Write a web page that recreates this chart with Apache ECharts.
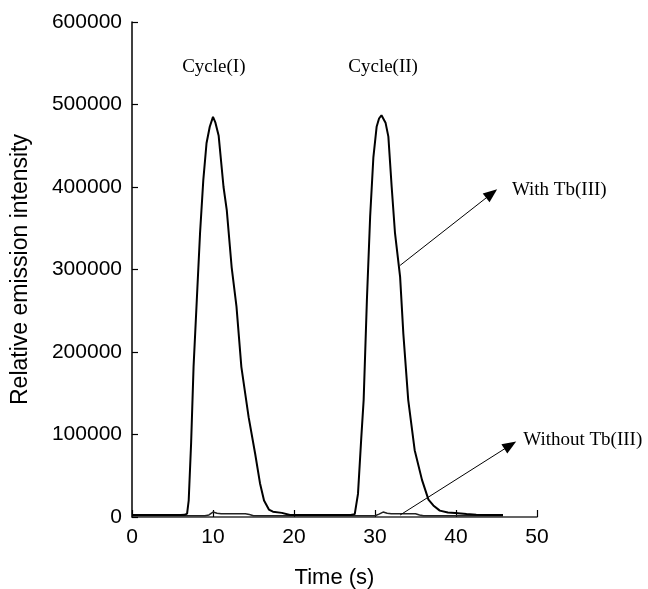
<!DOCTYPE html>
<html>
<head>
<meta charset="utf-8">
<script src="https://cdn.jsdelivr.net/npm/echarts@6/dist/echarts.min.js"></script>
<style>
  html, body { margin: 0; padding: 0; background: #fff; }
  #chart { width: 648px; height: 589px; }
</style>
</head>
<body>
<div id="chart"></div>
<script>
// time (s) and intensity
const withTime = [0, 1, 2, 3, 4, 5, 6, 6.5, 6.8, 7.0, 7.3, 7.6, 8.0, 8.4, 8.8, 9.2, 9.6, 10.0, 10.3, 10.7,
  11.3, 11.7, 12.3, 12.9, 13.5, 14.4, 15.2, 15.8, 16.3, 16.9, 17.4, 18.5, 19.5, 20.5, 22, 24, 26, 27, 27.5,
  27.9, 28.3, 28.6, 29.0, 29.4, 29.8, 30.2, 30.5, 30.8, 31.0, 31.3, 31.65, 32.06, 32.47, 33.1, 33.5, 34.1,
  34.9, 35.8, 36.6, 37.2, 38.0, 39.0, 39.9, 41.3, 42.5, 44, 45.8];
const withTb = [2500, 2500, 2500, 2500, 2500, 2500, 2500, 2600, 4000, 20000, 90000, 182000, 263000, 344000,
  408000, 453000, 473000, 485000, 478000, 462000, 400000, 372000, 303000, 255000, 182000, 121000, 77000,
  41000, 20000, 9000, 6400, 5000, 2500, 2500, 2500, 2500, 2500, 2500, 3500, 28000, 95000, 142000, 263000,
  364000, 436000, 473000, 483000, 487000, 485000, 478000, 461000, 400000, 344000, 291000, 222000, 142000,
  81000, 45000, 21000, 14000, 7700, 5500, 4800, 3600, 2800, 2500, 2500];

const withoutTime = [0, 5, 9, 9.5, 10, 10.5, 11, 14, 14.5, 15, 20, 25, 30, 30.5, 31, 31.5, 32, 35, 35.5, 36, 40, 45.8];
const withoutTb = [1500, 1500, 1500, 2500, 6000, 4500, 4000, 4000, 3000, 1500, 1500, 1500, 1500, 3500, 6000,
  4500, 4000, 4000, 2500, 1500, 1500, 1500];

// annotations: [time, intensity]
const cycleLabels = [
  { name: 'Cycle(I)', at: [10.1, 545000] },
  { name: 'Cycle(II)', at: [31.0, 545000] }
];
const arrows = [
  { from: [33.1, 305000], to: [44.4, 392000], text: 'With Tb(III)', textAt: [46.9, 396000] },
  { from: [33.1, 2400], to: [46.7, 87000], text: 'Without Tb(III)', textAt: [48.3, 93000] }
];

const zip = (xs, ys) => xs.map((x, i) => [x, ys[i]]);

const chart = echarts.init(document.getElementById('chart'));

const sans = 'Liberation Sans, Arial, sans-serif';
const serif = 'Liberation Serif, Times New Roman, serif';

chart.setOption({
  animation: false,
  grid: { left: 132, right: 111, top: 22, bottom: 72, outerBoundsMode: 'none', containLabel: false },
  xAxis: {
    type: 'value', min: 0, max: 50, interval: 10,
    name: 'Time (s)', nameLocation: 'middle', nameGap: 50,
    nameTextStyle: { fontFamily: sans, fontSize: 22, color: '#000' },
    axisLine: { lineStyle: { color: '#333', width: 1.5 } },
    axisTick: { inside: true, length: 7, lineStyle: { color: '#000', width: 1.2 } },
    axisLabel: { fontFamily: sans, fontSize: 21, color: '#000', margin: 10 },
    splitLine: { show: false }
  },
  yAxis: {
    type: 'value', min: 0, max: 600000, interval: 100000,
    name: 'Relative emission intensity', nameLocation: 'middle', nameGap: 100,
    nameTextStyle: { fontFamily: sans, fontSize: 23, color: '#000' },
    axisLine: { show: true, lineStyle: { color: '#000', width: 1.5 } },
    axisTick: { show: true, inside: true, length: 6, lineStyle: { color: '#000', width: 1.2 } },
    axisLabel: { fontFamily: sans, fontSize: 21, color: '#000', margin: 10, formatter: v => String(v) },
    splitLine: { show: false }
  },
  series: [
    {
      name: 'Without Tb(III)', type: 'line', data: zip(withoutTime, withoutTb),
      showSymbol: false, lineStyle: { color: '#222', width: 1.5 }, z: 2
    },
    {
      name: 'With Tb(III)', type: 'line', data: zip(withTime, withTb),
      showSymbol: false, lineStyle: { color: '#000', width: 2 }, z: 3,
      markLine: {
        silent: true, symbol: ['none', 'triangle'], symbolSize: [11, 14],
        lineStyle: { color: '#000', width: 1, type: 'solid' },
        label: { show: false },
        data: arrows.map(a => [{ coord: a.from }, { coord: a.to }])
      },
      markPoint: {
        silent: true, symbol: 'circle', symbolSize: 0,
        data: cycleLabels.map(c => ({
          coord: c.at,
          label: { show: true, formatter: c.name, fontFamily: serif, fontSize: 19, color: '#000', position: 'inside' }
        })).concat(arrows.map(a => ({
          coord: a.textAt,
          label: { show: true, formatter: a.text, fontFamily: serif, fontSize: 19, color: '#000', position: 'right', distance: 0 }
        })))
      }
    }
  ]
});
</script>
</body>
</html>
